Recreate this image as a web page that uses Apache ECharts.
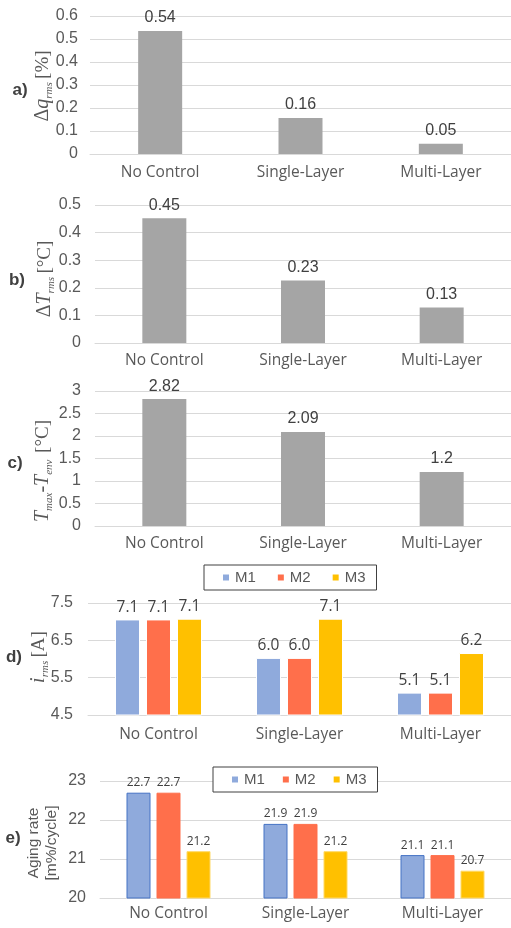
<!DOCTYPE html>
<html><head><meta charset="utf-8">
<script src="https://cdn.jsdelivr.net/npm/echarts@6/dist/echarts.min.js"></script>
<style>html,body{margin:0;padding:0;background:#fff}#c{width:511px;height:928px}</style>
</head><body><div id="c"></div>
<script>
const categories = ['No Control', 'Single-Layer', 'Multi-Layer'];
const aValues = [0.535, 0.157, 0.045];
const aLabels = ['0.54', '0.16', '0.05'];
const bValues = [0.452, 0.226, 0.129];
const bLabels = ['0.45', '0.23', '0.13'];
const cValues = [2.82, 2.09, 1.2];
const cLabels = ['2.82', '2.09', '1.2'];
const dM1 = [7.06, 6.03, 5.1];
const dM2 = [7.06, 6.03, 5.1];
const dM3 = [7.08, 7.08, 6.16];
const eM1 = [22.7, 21.9, 21.1];
const eM2 = [22.7, 21.9, 21.1];
const eM3 = [21.2, 21.2, 20.7];
const seriesNames = ['M1', 'M2', 'M3'];

const GRAY = '#A5A5A5', C1 = '#8FAADC', C2 = '#FF6F4B', C3 = '#FFC000';
const TXT = '#595959', LBL = '#404040', GRID = '#D9D9D9';
const SANS = 'Liberation Sans', CAT = 'Open Sans';

const chart = echarts.init(document.getElementById('c'), null, {renderer: 'canvas'});

function mkGrid(left, top, height) {
  return {left: left, right: 0, top: top, height: height, outerBoundsMode: 'none', containLabel: false};
}
function mkX(i, margin) {
  return {type: 'category', gridIndex: i, data: categories,
    axisLine: {lineStyle: {color: GRID}}, axisTick: {show: false},
    axisLabel: {color: TXT, fontFamily: CAT, fontSize: 15.5, margin: margin}};
}
function mkY(i, min, max, interval, margin) {
  return {type: 'value', gridIndex: i, min: min, max: max, interval: interval,
    axisLine: {show: false}, axisTick: {show: false},
    splitLine: {lineStyle: {color: GRID}},
    axisLabel: {color: TXT, fontFamily: SANS, fontSize: 16, margin: margin}};
}
function graySeries(i, vals, labels) {
  return {type: 'bar', xAxisIndex: i, yAxisIndex: i, data: vals, barWidth: 44,
    itemStyle: {color: GRAY},
    label: {show: true, position: 'top', distance: 5, color: LBL, fontFamily: SANS, fontSize: 16,
      formatter: p => labels[p.dataIndex]}};
}
function mSeries(i, name, vals, color, border, fs, bw, gap) {
  return {type: 'bar', name: name, xAxisIndex: i, yAxisIndex: i, data: vals, barWidth: bw, barGap: gap,
    itemStyle: {color: color, borderColor: border, borderWidth: 1},
    label: {show: true, position: 'top', distance: 4, color: LBL, fontFamily: CAT, fontSize: fs,
      formatter: p => p.value.toFixed(1)}};
}

function mathName(x, y, text, rich) {
  return {type: 'text', x: x, y: y, rotation: Math.PI / 2,
    style: {text: text, rich: rich, align: 'center', verticalAlign: 'middle', fill: TXT}};
}
const richBase = {
  d: {fontFamily: 'Liberation Serif', fontSize: 20, color: TXT, lineHeight: 24, verticalAlign: 'middle'},
  i: {fontFamily: 'Liberation Serif', fontStyle: 'italic', fontSize: 20, color: TXT, lineHeight: 24, verticalAlign: 'middle'},
  s: {fontFamily: 'Liberation Serif', fontStyle: 'italic', fontSize: 11, color: TXT, lineHeight: 24, verticalAlign: 'bottom'},
  n: {fontFamily: 'Liberation Serif', fontSize: 19, color: TXT, lineHeight: 24, verticalAlign: 'middle'}
};
function letter(x, y, t) {
  return {type: 'text', x: x, y: y,
    style: {text: t, font: 'bold 17px "Liberation Sans"', fill: '#404040', align: 'center', verticalAlign: 'middle'}};
}
function mkLegend(left, top, gap) {
  return {left: left, top: top, data: seriesNames, icon: 'rect', itemWidth: 8, itemHeight: 8, itemGap: gap,
    padding: [5, 11, 5, 17], backgroundColor: '#fff', borderColor: '#404040', borderWidth: 1,
    textStyle: {color: TXT, fontFamily: SANS, fontSize: 15}};
}

const option = {
  animation: false,
  backgroundColor: '#fff',
  grid: [mkGrid(90, 16, 138), mkGrid(95, 205, 138), mkGrid(95, 391, 135), mkGrid(88, 603, 112), mkGrid(100, 781, 117)],
  xAxis: [mkX(0, 11), mkX(1, 10), mkX(2, 10), mkX(3, 12), mkX(4, 8)],
  yAxis: [mkY(0, 0, 0.6, 0.1, 12), mkY(1, 0, 0.5, 0.1, 14), mkY(2, 0, 3, 0.5, 14), mkY(3, 4.5, 7.5, 1, 15), mkY(4, 20, 23, 1, 14)],
  legend: [mkLegend(204, 565, 20), mkLegend(213, 767, 16)],
  series: [
    graySeries(0, aValues, aLabels),
    graySeries(1, bValues, bLabels),
    graySeries(2, cValues, cLabels),
    mSeries(3, 'M1', dM1, C1, '#fff', 15.5, 25, '24%'),
    mSeries(3, 'M2', dM2, C2, '#fff', 15.5, 25, '24%'),
    mSeries(3, 'M3', dM3, C3, '#fff', 15.5, 25, '24%'),
    mSeries(4, 'M1', eM1, C1, '#4472C4', 12, 24, '25%'),
    mSeries(4, 'M2', eM2, C2, '#FF6F4B', 12, 24, '25%'),
    mSeries(4, 'M3', eM3, C3, '#FFD966', 12, 24, '25%')
  ],
  graphic: [
    letter(20, 90, 'a)'), letter(17, 280, 'b)'), letter(15, 463, 'c)'), letter(14, 657, 'd)'), letter(13, 838, 'e)'),
    mathName(43, 86, '{d|Δ}{i|q}{s|rms} {n|[%]}', richBase),
    mathName(45, 279, '{d|Δ}{i|T}{s|rms} {n|[°C]}', richBase),
    mathName(43, 471, '{i|T}{s|max}{d|-}{i|T}{s|env}  {n|[°C]}', richBase),
    mathName(39, 657, '{i|i}{s|rms} {n|[A]}', richBase),
    {type: 'text', x: 43, y: 843, rotation: Math.PI / 2,
      style: {text: 'Aging rate\n[m%/cycle]', font: '15.5px "Liberation Sans"', fill: TXT, align: 'center', verticalAlign: 'middle', lineHeight: 18}}
  ]
};
chart.setOption(option);
</script></body></html>
